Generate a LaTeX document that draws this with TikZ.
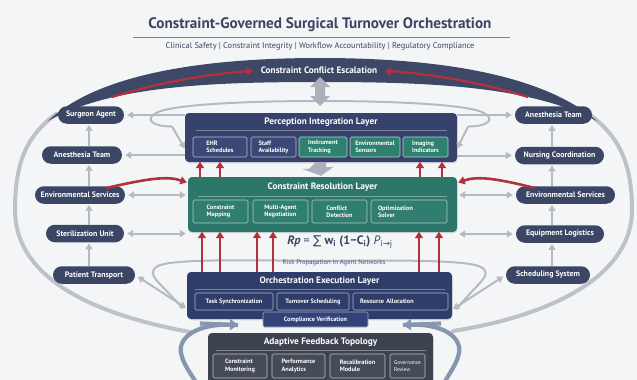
\documentclass[tikz,border=0pt]{standalone}
\usepackage{fontspec}
\setmainfont{PT Sans}
\newfontfamily\dejavu{DejaVu Sans}
\usetikzlibrary{arrows.meta,shapes.misc,calc,shadows}
\definecolor{bg}{HTML}{F4F5F7}
\definecolor{titlec}{HTML}{3B4562}
\definecolor{rulec}{HTML}{7A8499}
\definecolor{pill}{HTML}{3A4664}
\definecolor{percc}{HTML}{36426C}
\definecolor{percsub}{HTML}{3B4877}
\definecolor{tealsub}{HTML}{2E8070}
\definecolor{conc}{HTML}{2C7769}
\definecolor{consub}{HTML}{2F7E6F}
\definecolor{orchc}{HTML}{2E3D69}
\definecolor{orchsub}{HTML}{33437A}
\definecolor{adapc}{HTML}{3D434E}
\definecolor{adapsub}{HTML}{454B57}
\definecolor{redc}{HTML}{B3303D}
\definecolor{grayc}{HTML}{B6BAC0}
\definecolor{blockc}{HTML}{AAB1BB}
\definecolor{loopc}{HTML}{BEC1C6}
\definecolor{bluegray}{HTML}{8596AE}
\definecolor{banddark}{HTML}{3C4866}
\definecolor{bandend}{HTML}{C8CBD1}
\definecolor{riskc}{HTML}{3E5A8A}
\pgfdeclarehorizontalshading{bandshade}{100bp}{color(0bp)=(bandend); color(22bp)=(banddark); color(78bp)=(banddark); color(100bp)=(bandend)}
\begin{document}
\begin{tikzpicture}[x=1pt,y=-1pt,
  pillnode/.style={rounded rectangle, fill=pill, text=white, font=\bfseries\fontsize{7.9}{9}\selectfont, minimum height=17.5pt, inner xsep=3pt, inner ysep=0pt},
  layerbox/.style={rounded corners=4pt, inner sep=0pt, drop shadow={opacity=0.22,shadow xshift=0.6pt,shadow yshift=-1.4pt}},
  ltitle/.style={text=white, font=\bfseries\fontsize{9.3}{11}\selectfont},
  subbox/.style={rounded corners=1.5pt, line width=0.6pt, text=white, font=\bfseries\fontsize{6.3}{7.2}\selectfont, align=left, inner xsep=3pt, inner ysep=0pt},
  garrow/.style={draw=grayc, line width=2pt, -{Triangle[width=7pt,length=6pt]}},
  gdarrow/.style={draw=grayc, line width=2pt, {Triangle[width=7pt,length=6pt]}-{Triangle[width=7pt,length=6pt]}},
  gline/.style={draw=grayc, line width=2pt},
  rarrow/.style={draw=redc, line width=2.6pt, -{Triangle[width=8pt,length=6.5pt]}},
  barrow/.style={draw=bluegray, line width=4.2pt, -{Triangle[width=11pt,length=8pt]}},
  sepline/.style={draw=white, draw opacity=0.35, line width=0.5pt}
]
\useasboundingbox (0,0) rectangle (637,380);
\clip (0,0) rectangle (637,380);
\fill[bg] (0,0) rectangle (637,380);

% title
\node[text=titlec, font=\bfseries\fontsize{15.2}{17}\selectfont] (title) at (320,25) {Constraint-Governed Surgical Turnover Orchestration};
\draw[rulec, line width=0.8pt] (133,37.5) -- (510,37.5);
\node[text=titlec, font=\fontsize{8.4}{9.5}\selectfont] (subtitle) at (320,46.5) {Clinical Safety | Constraint Integrity | Workflow Accountability | Regulatory Compliance};

% outer loop
\draw[loopc, line width=4pt, line cap=round] (190,332) .. controls (80,312) and (15,272) .. (15,210) .. controls (15,160) and (28,135) .. (56,114);
\draw[loopc, line width=4pt, line cap=round] (589,114) .. controls (617,135) and (632,160) .. (632,210) .. controls (632,272) and (560,314) .. (453,331);

% band
\shade[shading=bandshade] (48,121) .. controls (100,72) and (210,58) .. (320,58) .. controls (430,58) and (540,72) .. (597,121) .. controls (530,86) and (430,82) .. (320,82) .. controls (210,82) and (110,86) .. (48,121) -- cycle;
\node[text=white, font=\bfseries\fontsize{9.3}{10}\selectfont] (esc) at (319,70.5) {Constraint Conflict Escalation};
\coordinate (bl) at (112,97);
\coordinate (br) at (528,97);
\draw[rarrow, line width=2.3pt, shorten >=4pt] (bl) .. controls (160,82) and (210,74) .. (esc.west);
\draw[rarrow, line width=2.3pt, shorten >=4pt] (br) .. controls (480,82) and (430,74) .. (esc.east);

% pills left
\node[pillnode, minimum width=72pt] (surg) at (91,115) {Surgeon Agent};
\node[pillnode, minimum width=86pt] (anesL) at (82,155) {Anesthesia Team};
\node[pillnode, minimum width=96pt] (envL) at (80,195) {Environmental Services};
\node[pillnode, minimum width=84pt] (ster) at (85,233.5) {Sterilization Unit};
\node[pillnode, minimum width=88pt] (pat) at (94,275) {Patient Transport};
% pills right
\node[pillnode, minimum width=83pt] (anesR) at (553.5,115) {Anesthesia Team};
\node[pillnode, minimum width=95pt] (nurs) at (559.5,155.5) {Nursing Coordination};
\node[pillnode, minimum width=105pt] (envR) at (565.5,195) {Environmental Services};
\node[pillnode, minimum width=94pt] (equip) at (560,234) {Equipment Logistics};
\node[pillnode, minimum width=90pt] (sched) at (548,275) {Scheduling System};

% vertical pill arrows
\coordinate (lx) at (89,0);
\coordinate (rx) at (552,0);
\foreach \a/\b in {anesL/surg, envL/anesL, ster/envL, pat/ster}
  \draw[garrow, shorten >=1pt] (\a.north -| lx) -- (\b.south -| lx);
\foreach \a/\b in {nurs/anesR, envR/nurs, equip/envR, sched/equip}
  \draw[garrow, shorten >=1pt] (\a.north -| rx) -- (\b.south -| rx);

% layer boxes
\node[layerbox, fill=percc, minimum width=272pt, minimum height=49pt] (perc) at (321,137.5) {};
\node[layerbox, fill=conc, minimum width=269pt, minimum height=55pt] (con) at (322.5,204.5) {};
\node[layerbox, fill=orchc, minimum width=265pt, minimum height=47pt] (orch) at (319.5,295.5) {};
\node[layerbox, fill=adapc, minimum width=225pt, minimum height=59pt] (adap) at (320.5,362.5) {};

% inner arcs (top)
\coordinate (arcmid) at (320,101);
\draw[gline] (arcmid) .. controls (240,101) and (170,105) .. (156,113) .. controls (142,121) and (158,127) .. (172,126.5);
\draw[garrow] (172,126.5) -- ($(perc.west)+(0,11)$);
\draw[gline] (arcmid) .. controls (400,101) and (470,105) .. (484,113) .. controls (498,121) and (482,127) .. (468,126.5);
\draw[garrow] (468,126.5) -- ($(perc.east)+(0,11)$);
% up/down block arrow
\fill[blockc] (320,77) -- (330,87) -- (325,87) -- (325,96) -- (330,96) -- (320,106) -- (310,96) -- (315,96) -- (315,87) -- (310,87) -- cycle;
% down block arrow between perception and constraint
\fill[blockc] ($(perc.south)+(-5,0)$) -- ++(10,0) -- ++(0,5) -- ++(7,0) -- ($(con.north)+(-1.5,-1)$) -- ++(-19,-7) -- ++(7,0) -- cycle;

% horizontal gray arrows
\draw[garrow, shorten >=3pt] (perc.west |- surg.east) -- (surg.east);
\draw[garrow, shorten >=3pt] (perc.west |- anesL.east) -- (anesL.east);
\draw[gdarrow, shorten >=3pt, shorten <=2pt] (con.west |- envL.east) -- (envL.east);
\draw[gdarrow, shorten >=3pt, shorten <=2pt] (con.west |- ster.east) -- (ster.east);
\draw[garrow, shorten >=3pt] (perc.east |- anesR.west) -- (anesR.west);
\draw[garrow, shorten >=3pt] (perc.east |- nurs.west) -- (nurs.west);
\draw[gdarrow, shorten >=3pt, shorten <=2pt] (con.east |- envR.west) -- (envR.west);
\draw[gdarrow, shorten >=3pt, shorten <=2pt] (con.east |- equip.west) -- (equip.west);

% lower inner arc
\coordinate (lowmid) at (320,261);
\draw[gline] (lowmid) .. controls (240,260) and (172,259) .. (158,266) .. controls (144,274) and (160,282) .. ($(orch.west)+(-4,13)$);
\draw[gline] (lowmid) .. controls (400,260) and (468,260) .. (481,267) .. controls (494,275) and (478,282) .. ($(orch.east)+(4,14)$);
\draw[gdarrow, shorten >=3pt, shorten <=1pt] ($(orch.west)+(0,13)$) -- (pat.east);
\draw[gdarrow, shorten >=3pt, shorten <=1pt] ($(orch.east)+(0,14)$) -- (sched.west);

% red curved arrows
\draw[rarrow] ($(envL.north east)+(-10,2)$) .. controls (150,178) and (168,176) .. ($(con.west)+(-1,-22)$);
\draw[rarrow] ($(envR.north west)+(10,2)$) .. controls (495,178) and (477,176) .. ($(con.east)+(1,-22)$);

% red vertical arrows
\foreach \x in {200,220,420,442}
  \draw[rarrow] (con.north -| \x,0) -- ($(perc.south -| \x,0)+(0,-0.5)$);
\foreach \x in {202,220,257,273,419,439}
  \draw[rarrow] (orch.north -| \x,0) -- ($(con.south -| \x,0)+(0,-0.5)$);

% formula
\node[text=titlec, font=\fontsize{12.2}{14}\selectfont, fill=bg, inner sep=1pt] (formula) at (340,242) {\textbf{\textit{Rp}} = {\dejavu ∑} \textbf{w\textsubscript{i}} \textbf{(1−C\textsubscript{i})} \textit{P}\textsubscript{i{\dejavu →}j}};
\node[text=riskc, font=\fontsize{6.7}{7.5}\selectfont, inner sep=0.5pt] (risk) at (334,262.5) {Risk Propagation in Agent Networks};

% perception content
\node[ltitle] (percT) at (321,122) {Perception Integration Layer};
\draw[sepline] (196,130) -- (447,130);
\node[subbox, draw=white!65!percc, fill=percsub, minimum width=54pt, minimum height=20pt] (ehr) at (220,147) {EHR\\Schedules};
\node[subbox, draw=white!65!percc, fill=percsub, minimum width=45pt, minimum height=20pt] (staff) at (273.5,147) {Staff\\Availability};
\node[subbox, draw=white!65!tealsub, fill=tealsub, minimum width=48pt, minimum height=20pt] (instr) at (323,147) {Instrument\\Tracking};
\node[subbox, draw=white!65!tealsub, fill=tealsub, minimum width=50pt, minimum height=20pt, inner xsep=1.5pt] (envs) at (375,147) {Environmental\\Sensors};
\node[subbox, draw=white!65!tealsub, fill=tealsub, minimum width=45pt, minimum height=20pt] (img) at (425.5,147) {Imaging\\Indicators};

% constraint content
\node[ltitle] (conT) at (322.5,187) {Constraint Resolution Layer};
\draw[sepline] (198,196) -- (447,196);
\node[subbox, draw=white!60!consub, fill=consub, minimum width=55pt, minimum height=23pt] (cmap) at (220.5,211.5) {Constraint\\Mapping};
\node[subbox, draw=white!60!consub, fill=consub, minimum width=55pt, minimum height=23pt] (neg) at (280.5,211.5) {Multi-Agent\\Negotiation};
\node[subbox, draw=white!60!consub, fill=consub, minimum width=55pt, minimum height=23pt] (cdet) at (339.5,211.5) {Conflict\\Detection};
\node[subbox, draw=white!60!consub, fill=consub, minimum width=76pt, minimum height=23pt, text width=62pt, inner xsep=7pt] (opt) at (409,211.5) {Optimization\\Solver};

% orchestration content
\node[ltitle] (orchT) at (319.5,281) {Orchestration Execution Layer};
\draw[sepline] (195,289) -- (445,289);
\node[subbox, draw=white!60!orchc, fill=orchc, minimum width=78pt, minimum height=17pt, align=center] (tsync) at (234,301.5) {Task Synchronization};
\node[subbox, draw=white!60!orchc, fill=orchc, minimum width=72pt, minimum height=17pt, align=center] (tsched) at (313,301.5) {Turnover Scheduling};
\node[subbox, draw=white!60!orchc, fill=orchc, minimum width=95pt, minimum height=17pt, text width=81pt, inner xsep=7pt] (ralloc) at (400.5,301.5) {Resource Allocation};
\node[subbox, draw=white!55!orchsub, fill=orchsub, minimum width=105pt, minimum height=15pt, align=center] (comp) at (315.5,319.5) {Compliance Verification};

% adaptive content
\node[ltitle] (adapT) at (320.5,342.5) {Adaptive Feedback Topology};
\draw[sepline] (216,350) -- (426,350);
\node[subbox, draw=white!65!adapsub, fill=adapsub, minimum width=54pt, minimum height=24pt] (cmon) at (240,366) {Constraint\\Monitoring};
\node[subbox, draw=white!65!adapsub, fill=adapsub, minimum width=53pt, minimum height=24pt] (perf) at (298.5,366) {Performance\\Analytics};
\node[subbox, draw=white!65!adapsub, fill=adapsub, minimum width=55pt, minimum height=24pt, inner xsep=1.5pt] (recal) at (357.5,366) {Recalibration\\Module};
\node[subbox, draw=white!65!adapsub, fill=adapsub, minimum width=35pt, minimum height=24pt, font=\fontsize{5.4}{6.4}\selectfont, inner xsep=1.5pt] (gov) at (407.5,366) {Governance\\Review};

% blue-gray C arrows
\coordinate (cl) at (238,325);
\coordinate (cr) at (403,325);
\draw[barrow] (cl) .. controls (196,322) and (178,338) .. (181,353) .. controls (184,368) and (194,375) .. ($(adap.south west)+(0,15)$);
\draw[bluegray, line width=4.2pt, -{Triangle[width=11pt,length=8pt]}] (200,323.5) -- (cl);
\draw[barrow] (cr) .. controls (444,322) and (462,338) .. (459,353) .. controls (456,368) and (446,375) .. ($(adap.south east)+(0,15)$);
\draw[bluegray, line width=4.2pt, -{Triangle[width=11pt,length=8pt]}] (441,323.5) -- (cr);
\end{tikzpicture}
\end{document}
